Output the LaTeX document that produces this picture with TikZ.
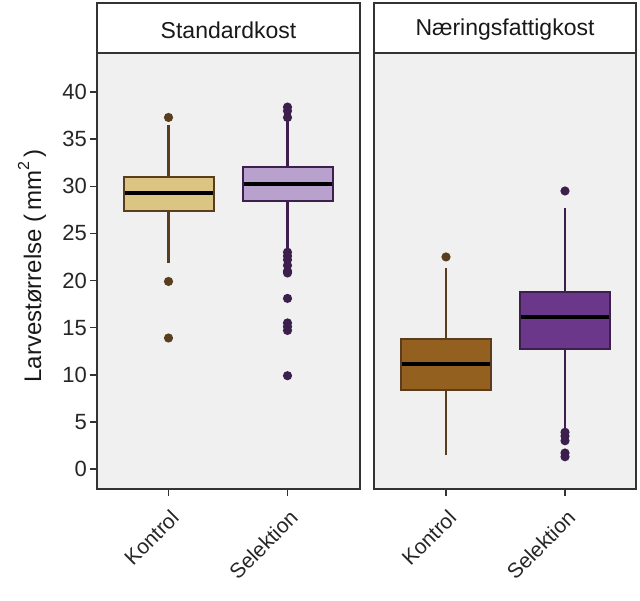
\documentclass[tikz,border=0pt]{standalone}
\usepackage{fontspec}
\setmainfont{Liberation Sans}
\definecolor{panelbg}{HTML}{F0F0F0}
\definecolor{frame}{HTML}{333333}
\definecolor{kfill}{HTML}{DBC582}
\definecolor{kdark}{HTML}{5A3D1E}
\definecolor{sfill}{HTML}{B9A1CD}
\definecolor{sdark}{HTML}{3D1F4E}
\definecolor{k2fill}{HTML}{93601F}
\definecolor{s2fill}{HTML}{6B378A}
\tikzset{
  panelframe/.style={draw=frame, line width=1.5pt},
  whisk/.style={line width=2.4pt},
  boxst/.style={line width=2pt},
  medline/.style={line width=4pt, black},
  tickst/.style={line width=1.5pt, frame},
  striptext/.style={font=\fontsize{23}{26}\selectfont, text=black!90},
  ticklab/.style={font=\fontsize{22}{24}\selectfont, text=black!85},
  xlab/.style={font=\fontsize{21}{24}\selectfont, text=black!85, rotate=45, anchor=north east, inner sep=1pt},
  outl/.style={radius=4.6pt}
}
\newcommand\bxp[8]{%
  \draw[whisk,#8] (#1,#2) -- (#1,#5);
  \draw[whisk,#8] (#1,#4) -- (#1,#6);
  \filldraw[boxst, fill=#7, draw=#8] (#1-45,#2) rectangle (#1+45,#4);
  \draw[medline] (#1-44,#3) -- (#1+44,#3);
}
\begin{document}
\begin{tikzpicture}[x=1pt,y=-1pt]
\useasboundingbox[fill=white] (0,0) rectangle (640,600);
% panels
\fill[panelbg] (97,53) rectangle (360,489);
\fill[panelbg] (374,53) rectangle (636,489);
\draw[panelframe, fill=white] (97,3) rectangle (360,53);
\draw[panelframe, fill=white] (374,3) rectangle (636,53);
\node[striptext] (s1) at (228.5,30) {Standardkost};
\node[striptext] (s2) at (505,30) {Næringsfattigkost};
% data
\begin{scope}[shift={(0,469)}, y=9.425pt]
  \bxp{168.5}{27.4}{29.3}{31.0}{21.9}{36.5}{kfill}{kdark}
  \foreach \v in {37.3,19.9,13.9} \fill[kdark] (168.5,\v) circle[outl];
  \bxp{287.5}{28.4}{30.2}{32.0}{23.3}{37.0}{sfill}{sdark}
  \foreach \v in {38.4,38.0,37.3,23.0,22.6,22.2,21.6,21.0,20.8,18.1,15.5,15.1,14.7,9.9}
    \fill[sdark] (287.5,\v) circle[outl];
  \bxp{446}{8.4}{11.1}{13.8}{1.5}{21.3}{k2fill}{kdark}
  \fill[kdark] (446,22.5) circle[outl];
  \bxp{565}{12.7}{16.1}{18.8}{4.2}{27.7}{s2fill}{sdark}
  \foreach \v in {29.5,3.9,3.5,3.0,1.7,1.3} \fill[sdark] (565,\v) circle[outl];
  % y axis ticks
  \foreach \t in {0,5,...,40} {
    \draw[tickst] (90,\t) -- (97,\t);
    \node[ticklab, anchor=east, inner sep=0pt] (yl\t) at (87,\t) {\t};
  }
\end{scope}
\draw[panelframe] (97,53) rectangle (360,489);
\draw[panelframe] (374,53) rectangle (636,489);
% x ticks
\foreach \x/\n/\l in {168.5/a/Kontrol, 287.5/b/Selektion, 446/c/Kontrol, 565/d/Selektion} {
  \draw[tickst] (\x,489) -- (\x,496);
  \node[xlab] (xl\n) at (\x+1,507) {\l};
}
\node[font=\fontsize{24}{26}\selectfont, text=black!90, rotate=90] (ytitle) at (32,266)
  {Larvestørrelse (\,mm\raisebox{0.5em}{\fontsize{16}{16}\selectfont 2}\,)};
\end{tikzpicture}
\end{document}
